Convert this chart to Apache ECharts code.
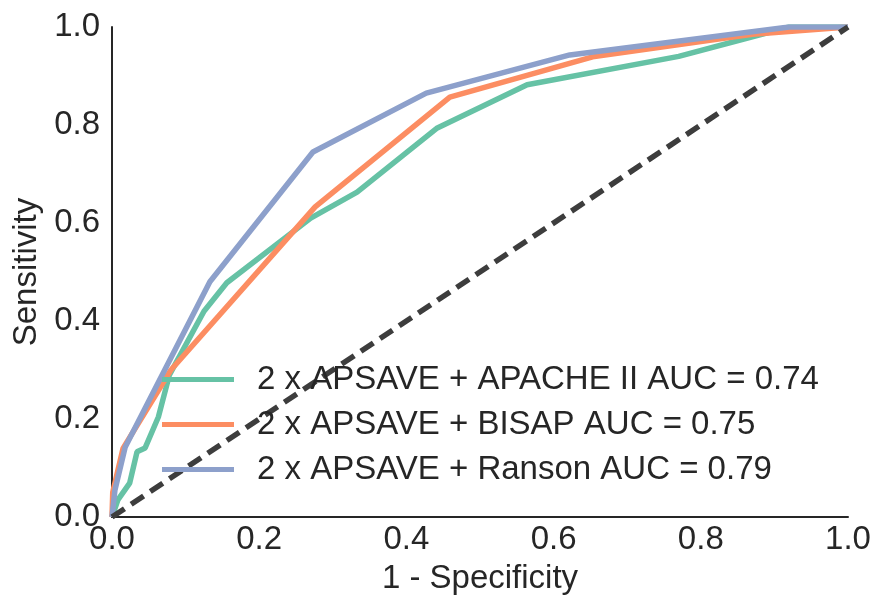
<!DOCTYPE html>
<html>
<head>
<meta charset="utf-8">
<script src="https://cdn.jsdelivr.net/npm/echarts@6/dist/echarts.min.js"></script>
<style>
  html, body { margin: 0; padding: 0; background: #ffffff; }
  #chart { width: 876px; height: 601px; }
</style>
</head>
<body>
<div id="chart"></div>
<script>
// ROC curves: false positive rate (1 - specificity) vs. true positive rate (sensitivity)
const seriesNames = [
  '2 x APSAVE + APACHE II AUC = 0.74',
  '2 x APSAVE + BISAP AUC = 0.75',
  '2 x APSAVE + Ranson AUC = 0.79'
];

const fprApache = [0, 0.008, 0.024, 0.034, 0.045, 0.063, 0.078, 0.125, 0.156, 0.27, 0.333, 0.442, 0.564, 0.77, 0.92, 1];
const tprApache = [0, 0.035, 0.069, 0.133, 0.141, 0.204, 0.29, 0.42, 0.478, 0.61, 0.663, 0.794, 0.882, 0.94, 1.0, 1];

const fprBisap = [0, 0.001, 0.015, 0.08, 0.276, 0.459, 0.653, 0.87, 1];
const tprBisap = [0, 0.05, 0.14, 0.30, 0.633, 0.857, 0.939, 0.985, 1];

const fprRanson = [0, 0.004, 0.018, 0.133, 0.273, 0.427, 0.622, 0.92, 1];
const tprRanson = [0, 0.055, 0.143, 0.48, 0.745, 0.865, 0.943, 1.0, 1];

// chance line
const fprChance = [0, 1];
const tprChance = [0, 1];

const tickValues = [0, 0.2, 0.4, 0.6, 0.8, 1.0];

const colors = ['#66c2a5', '#fc8d62', '#8da0cb'];
const textColor = '#262626';
const fontFamily = 'Liberation Sans, Arial, sans-serif';
const fontSize = 33;

function pairs(xs, ys) {
  return xs.map((x, i) => [x, ys[i]]);
}

const curves = [
  pairs(fprApache, tprApache),
  pairs(fprBisap, tprBisap),
  pairs(fprRanson, tprRanson)
];

const chart = echarts.init(document.getElementById('chart'), null, { renderer: 'canvas' });

const axisCommon = {
  type: 'value',
  min: tickValues[0],
  max: tickValues[tickValues.length - 1],
  interval: 0.2,
  splitLine: { show: false },
  axisTick: { show: false },
  axisLine: { show: true, lineStyle: { color: textColor, width: 2 } },
  nameLocation: 'middle',
  nameTextStyle: { fontSize: fontSize, color: textColor, fontFamily: fontFamily },
  axisLabel: {
    fontSize: fontSize,
    color: textColor,
    fontFamily: fontFamily,
    formatter: v => v.toFixed(1)
  }
};

const series = curves.map((data, i) => ({
  name: seriesNames[i],
  type: 'line',
  data: data,
  showSymbol: false,
  symbol: 'none',
  lineStyle: { color: colors[i], width: 5.5 },
  itemStyle: { color: colors[i] },
  z: 2
}));

series.push({
  name: 'chance',
  type: 'line',
  data: pairs(fprChance, tprChance),
  showSymbol: false,
  symbol: 'none',
  lineStyle: { color: '#3d3d3d', width: 5.5, type: [15, 8] },
  z: 3
});

chart.setOption({
  animation: false,
  backgroundColor: '#ffffff',
  grid: { left: 112, right: 28, top: 27, bottom: 84, containLabel: false },
  xAxis: Object.assign({}, axisCommon, {
    name: '1 - Specificity',
    nameGap: 45,
    axisLabel: Object.assign({}, axisCommon.axisLabel, { margin: 6 })
  }),
  yAxis: Object.assign({}, axisCommon, {
    name: 'Sensitivity',
    nameGap: 65,
    nameRotate: 90,
    axisLabel: Object.assign({}, axisCommon.axisLabel, { margin: 12 })
  }),
  legend: {
    data: seriesNames,
    orient: 'vertical',
    left: 157,
    top: 358,
    icon: 'rect',
    itemWidth: 72,
    itemHeight: 5,
    itemGap: 12,
    textStyle: {
      fontSize: fontSize,
      color: textColor,
      fontFamily: fontFamily,
      padding: [0, 0, 0, 18]
    },
    selectedMode: false
  },
  series: series
});
</script>
</body>
</html>
